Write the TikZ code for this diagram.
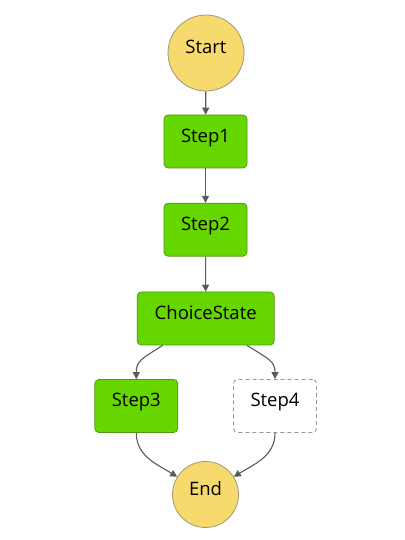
\documentclass[tikz,border=0pt]{standalone}
\usepackage{fontspec}
\setmainfont{Open Sans}
\usetikzlibrary{arrows.meta}
\definecolor{stepgreen}{RGB}{102,214,0}
\definecolor{stepborder}{RGB}{80,150,20}
\definecolor{termyellow}{RGB}{247,218,110}
\definecolor{termborder}{RGB}{160,150,120}
\definecolor{arrowgray}{RGB}{90,90,90}
\definecolor{dashgray}{RGB}{150,150,150}
\begin{document}
\begin{tikzpicture}[x=1pt,y=1pt,
  font=\fontsize{18.5}{22}\selectfont,
  every node/.style={text height=13pt, text depth=11.6pt},
  term/.style={circle, draw=termborder, line width=0.8pt, fill=termyellow, minimum size=#1, inner sep=0pt},
  task/.style={rectangle, rounded corners=4pt, draw=stepborder, line width=0.7pt, fill=stepgreen, minimum width=83, minimum height=53, inner sep=0pt},
  ghost/.style={rectangle, rounded corners=4pt, draw=dashgray, dashed, dash pattern=on 4pt off 3pt, line width=0.8pt, fill=white, minimum width=83, minimum height=53, inner sep=0pt},
  conn/.style={draw=arrowgray, line width=1.1pt, -{Triangle[length=7pt,width=7pt]}}
]
\useasboundingbox (0,0) rectangle (404,540);
\node[term=76] (start) at (206,487) {Start};
\node[task] (s1) at (205.5,398.5) {Step1};
\node[task] (s2) at (205.5,310.3) {Step2};
\node[task, minimum width=137] (choice) at (205.7,221.5) {ChoiceState};
\node[task] (s3) at (136.3,134) {Step3};
\node[ghost] (s4) at (275,134) {Step4};
\node[term=66] (end) at (205.5,45.5) {End};
\draw[conn] (start) -- (s1);
\draw[conn] (s1) -- (s2);
\draw[conn] (s2) -- (choice);
\draw[conn] (choice.212) .. controls +(-22,-14) and +(0,18) .. (s3.north);
\draw[conn] (choice.327) .. controls +(22,-14) and +(0,18) .. (s4.north);
\draw[conn] (s3.south) to[out=-90, in=148] (end.148);
\draw[conn] (s4.south) to[out=-90, in=32] (end.32);
\end{tikzpicture}
\end{document}
